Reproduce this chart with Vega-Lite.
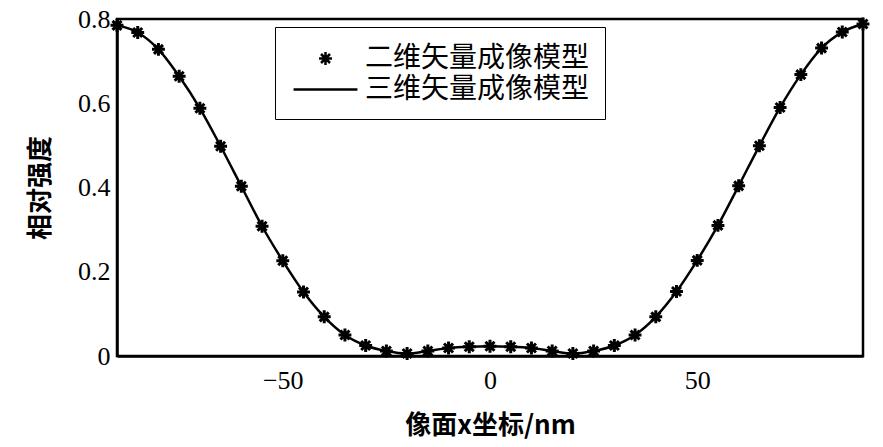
{
  "$schema": "https://vega.github.io/schema/vega-lite/v6.json",
  "width": 746,
  "height": 337,
  "autosize": {"type": "none"},
  "padding": {"left": 117, "top": 19, "right": 20, "bottom": 91},
  "background": "white",
  "data": {
    "values": [
      {"x": -90, "y": 0.785, "model": "二维矢量成像模型"},
      {"x": -85, "y": 0.768, "model": "二维矢量成像模型"},
      {"x": -80, "y": 0.728, "model": "二维矢量成像模型"},
      {"x": -75, "y": 0.664, "model": "二维矢量成像模型"},
      {"x": -70, "y": 0.588, "model": "二维矢量成像模型"},
      {"x": -65, "y": 0.498, "model": "二维矢量成像模型"},
      {"x": -60, "y": 0.403, "model": "二维矢量成像模型"},
      {"x": -55, "y": 0.308, "model": "二维矢量成像模型"},
      {"x": -50, "y": 0.226, "model": "二维矢量成像模型"},
      {"x": -45, "y": 0.152, "model": "二维矢量成像模型"},
      {"x": -40, "y": 0.093, "model": "二维矢量成像模型"},
      {"x": -35, "y": 0.050, "model": "二维矢量成像模型"},
      {"x": -30, "y": 0.025, "model": "二维矢量成像模型"},
      {"x": -25, "y": 0.012, "model": "二维矢量成像模型"},
      {"x": -20, "y": 0.006, "model": "二维矢量成像模型"},
      {"x": -15, "y": 0.012, "model": "二维矢量成像模型"},
      {"x": -10, "y": 0.019, "model": "二维矢量成像模型"},
      {"x": -5, "y": 0.022, "model": "二维矢量成像模型"},
      {"x": 0, "y": 0.023, "model": "二维矢量成像模型"},
      {"x": 5, "y": 0.022, "model": "二维矢量成像模型"},
      {"x": 10, "y": 0.019, "model": "二维矢量成像模型"},
      {"x": 15, "y": 0.012, "model": "二维矢量成像模型"},
      {"x": 20, "y": 0.006, "model": "二维矢量成像模型"},
      {"x": 25, "y": 0.012, "model": "二维矢量成像模型"},
      {"x": 30, "y": 0.025, "model": "二维矢量成像模型"},
      {"x": 35, "y": 0.050, "model": "二维矢量成像模型"},
      {"x": 40, "y": 0.093, "model": "二维矢量成像模型"},
      {"x": 45, "y": 0.153, "model": "二维矢量成像模型"},
      {"x": 50, "y": 0.227, "model": "二维矢量成像模型"},
      {"x": 55, "y": 0.310, "model": "二维矢量成像模型"},
      {"x": 60, "y": 0.404, "model": "二维矢量成像模型"},
      {"x": 65, "y": 0.499, "model": "二维矢量成像模型"},
      {"x": 70, "y": 0.590, "model": "二维矢量成像模型"},
      {"x": 75, "y": 0.668, "model": "二维矢量成像模型"},
      {"x": 80, "y": 0.731, "model": "二维矢量成像模型"},
      {"x": 85, "y": 0.769, "model": "二维矢量成像模型"},
      {"x": 90, "y": 0.788, "model": "二维矢量成像模型"},
      {"x": -90, "y": 0.785, "model": "三维矢量成像模型"},
      {"x": -85, "y": 0.768, "model": "三维矢量成像模型"},
      {"x": -80, "y": 0.728, "model": "三维矢量成像模型"},
      {"x": -75, "y": 0.664, "model": "三维矢量成像模型"},
      {"x": -70, "y": 0.588, "model": "三维矢量成像模型"},
      {"x": -65, "y": 0.498, "model": "三维矢量成像模型"},
      {"x": -60, "y": 0.403, "model": "三维矢量成像模型"},
      {"x": -55, "y": 0.308, "model": "三维矢量成像模型"},
      {"x": -50, "y": 0.226, "model": "三维矢量成像模型"},
      {"x": -45, "y": 0.152, "model": "三维矢量成像模型"},
      {"x": -40, "y": 0.093, "model": "三维矢量成像模型"},
      {"x": -35, "y": 0.050, "model": "三维矢量成像模型"},
      {"x": -30, "y": 0.025, "model": "三维矢量成像模型"},
      {"x": -25, "y": 0.012, "model": "三维矢量成像模型"},
      {"x": -20, "y": 0.006, "model": "三维矢量成像模型"},
      {"x": -15, "y": 0.012, "model": "三维矢量成像模型"},
      {"x": -10, "y": 0.019, "model": "三维矢量成像模型"},
      {"x": -5, "y": 0.022, "model": "三维矢量成像模型"},
      {"x": 0, "y": 0.023, "model": "三维矢量成像模型"},
      {"x": 5, "y": 0.022, "model": "三维矢量成像模型"},
      {"x": 10, "y": 0.019, "model": "三维矢量成像模型"},
      {"x": 15, "y": 0.012, "model": "三维矢量成像模型"},
      {"x": 20, "y": 0.006, "model": "三维矢量成像模型"},
      {"x": 25, "y": 0.012, "model": "三维矢量成像模型"},
      {"x": 30, "y": 0.025, "model": "三维矢量成像模型"},
      {"x": 35, "y": 0.050, "model": "三维矢量成像模型"},
      {"x": 40, "y": 0.093, "model": "三维矢量成像模型"},
      {"x": 45, "y": 0.153, "model": "三维矢量成像模型"},
      {"x": 50, "y": 0.227, "model": "三维矢量成像模型"},
      {"x": 55, "y": 0.310, "model": "三维矢量成像模型"},
      {"x": 60, "y": 0.404, "model": "三维矢量成像模型"},
      {"x": 65, "y": 0.499, "model": "三维矢量成像模型"},
      {"x": 70, "y": 0.590, "model": "三维矢量成像模型"},
      {"x": 75, "y": 0.668, "model": "三维矢量成像模型"},
      {"x": 80, "y": 0.731, "model": "三维矢量成像模型"},
      {"x": 85, "y": 0.769, "model": "三维矢量成像模型"},
      {"x": 90, "y": 0.788, "model": "三维矢量成像模型"}
    ]
  },
  "layer": [
    {
      "transform": [{"filter": "datum.model == '三维矢量成像模型'"}],
      "mark": {"type": "line", "color": "black", "strokeWidth": 2.5, "interpolate": "monotone"},
      "encoding": {
        "x": {
          "field": "x",
          "type": "quantitative",
          "scale": {"domain": [-90, 90], "nice": false, "zero": false},
          "axis": {
            "title": "像面x坐标/nm",
            "values": [-50, 0, 50],
            "tickSize": 0,
            "labelPadding": 11,
            "titlePadding": 19
          }
        },
        "y": {
          "field": "y",
          "type": "quantitative",
          "scale": {"domain": [0, 0.8], "nice": false},
          "axis": {
            "title": "相对强度",
            "values": [0, 0.2, 0.4, 0.6, 0.8],
            "format": ".1~f",
            "tickSize": 0,
            "labelPadding": 7,
            "titlePadding": 24
          }
        }
      }
    },
    {
      "transform": [{"filter": "datum.model == '二维矢量成像模型'"}],
      "mark": {"type": "point", "filled": false, "stroke": "black", "strokeWidth": 3, "opacity": 1, "size": 900},
      "encoding": {
        "x": {"field": "x", "type": "quantitative"},
        "y": {"field": "y", "type": "quantitative"},
        "shape": {
          "field": "model",
          "type": "nominal",
          "scale": {
            "domain": ["二维矢量成像模型", "三维矢量成像模型"],
            "range": ["M-0.43,0L0.43,0M0,-0.43L0,0.43M-0.3,-0.3L0.3,0.3M-0.3,0.3L0.3,-0.3", "M-2.13,0L2.13,0"]
          },
          "legend": {
            "title": null,
            "orient": "none",
            "legendX": 158,
            "legendY": 8,
            "padding": 15,
            "strokeColor": "black",
            "fillColor": "white",
            "labelFont": "Noto Sans CJK SC",
            "labelFontSize": 28,
            "labelColor": "black",
            "labelLimit": 500,
            "symbolSize": 900,
            "symbolOffset": 19,
            "labelOffset": 23,
            "rowPadding": 0,
            "symbolStrokeColor": "black",
            "symbolStrokeWidth": 2.5,
            "encode": {"legend": {"update": {"strokeWidth": {"value": 2}}}}
          }
        }
      }
    }
  ],
  "config": {
    "view": {"stroke": "black", "strokeWidth": 2.5},
    "axis": {
      "grid": false,
      "domainColor": "black",
      "domainWidth": 2.5,
      "labelColor": "black",
      "labelFont": "Liberation Serif",
      "labelFontSize": 26,
      "titleColor": "black",
      "titleFont": "Noto Sans CJK SC",
      "titleFontSize": 26,
      "titleFontWeight": "bold"
    }
  }
}
